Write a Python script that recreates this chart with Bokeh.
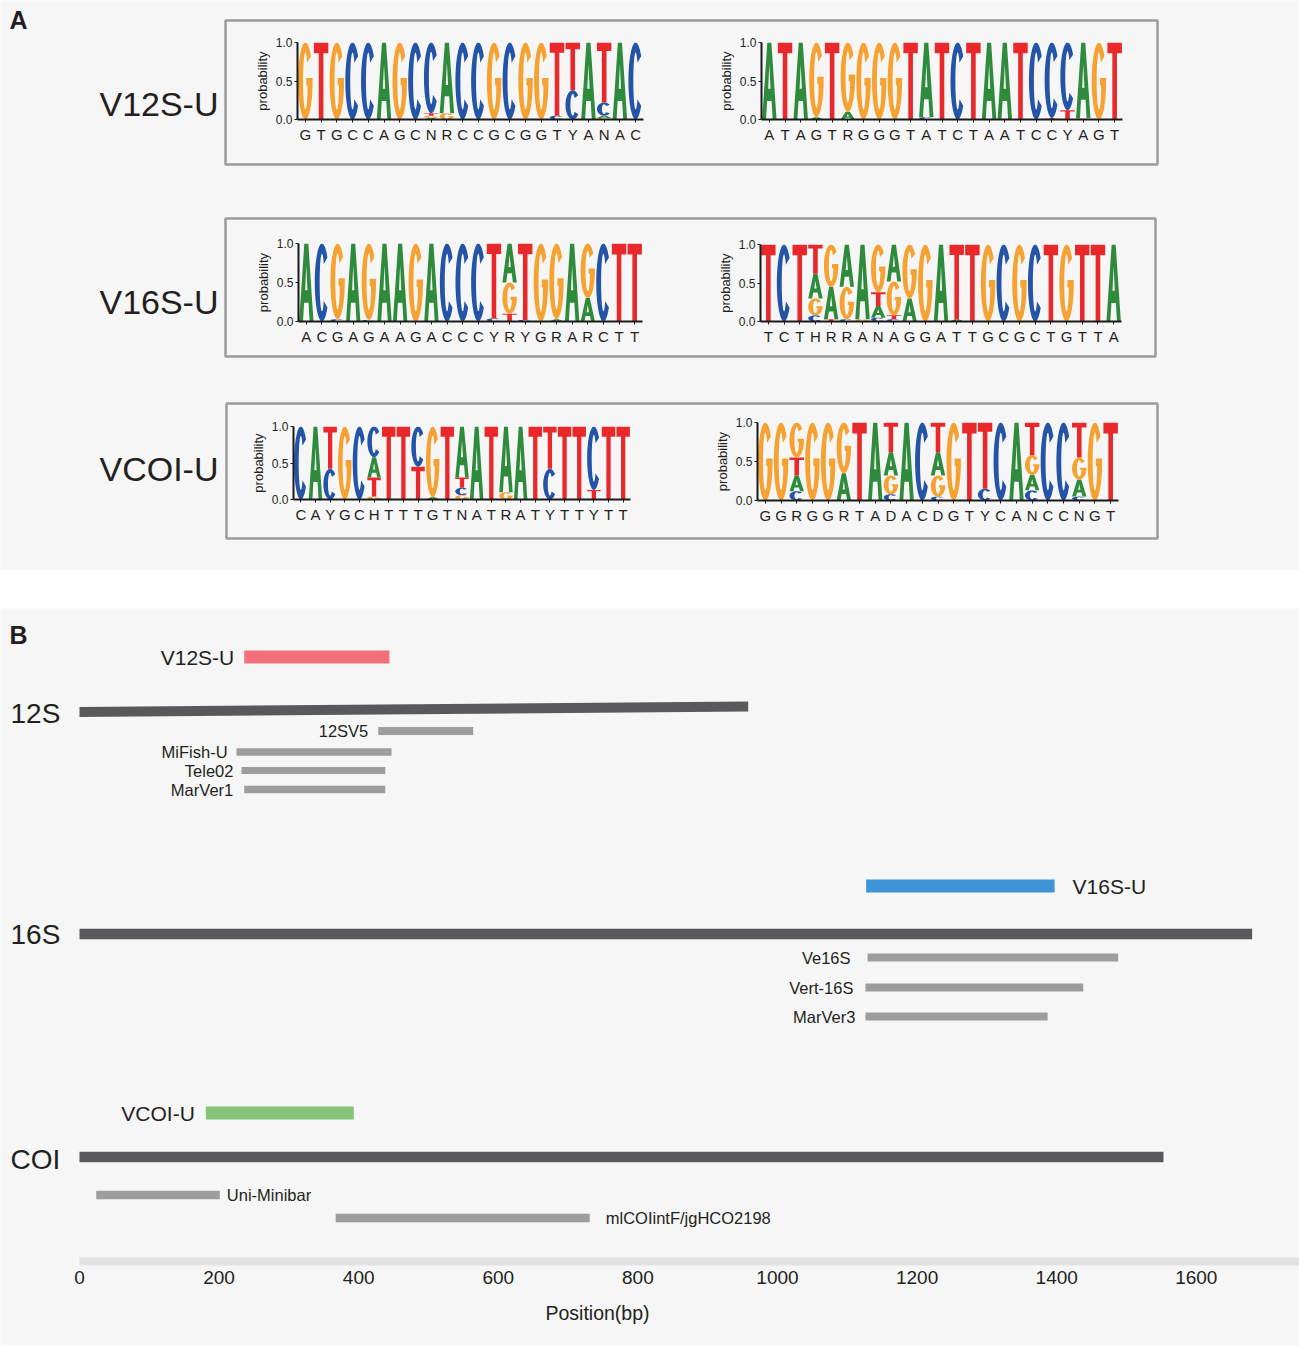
import numpy as np
from bokeh.plotting import figure
from bokeh.models import Range1d, FixedTicker, ColumnDataSource, GridBox, Title, NumeralTickFormatter
from bokeh.embed import file_html
from bokeh.resources import INLINE
from bokeh.core.properties import value

# ------------------------------------------------------------------ data: panel A
BASES = ["A", "C", "G", "T"]          # order of the probability tuples below

V12S_LEFT_LABELS = list("GTGCCAGCNRCCGCGGTYANAC")
V12S_LEFT = [
    (0, 0, 1, 0), (0, 0, 0, 1), (0, 0, 1, 0), (0, 1, 0, 0), (0, 1, 0, 0), (1, 0, 0, 0),
    (0, 0, 1, 0), (0, 1, 0, 0), (0.02, 0.92, 0.03, 0.03), (0.92, 0, 0.08, 0), (0, 1, 0, 0),
    (0, 1, 0, 0), (0, 0, 1, 0), (0, 1, 0, 0), (0, 0, 1, 0), (0, 0, 1, 0), (0, 0.05, 0, 0.95),
    (0, 0.38, 0, 0.62), (1, 0, 0, 0), (0.03, 0.17, 0.02, 0.78), (1, 0, 0, 0), (0, 1, 0, 0)]

V12S_RIGHT_LABELS = list("ATAGTRGGGTATCTAATCCYAGT")
V12S_RIGHT = [
    (1, 0, 0, 0), (0, 0, 0, 1), (1, 0, 0, 0), (0.03, 0, 0.97, 0), (0, 0, 0, 1), (0.1, 0, 0.9, 0),
    (0, 0, 1, 0), (0, 0, 1, 0), (0, 0, 1, 0), (0, 0, 0, 1), (0.97, 0.03, 0, 0), (0, 0, 0, 1),
    (0, 1, 0, 0), (0, 0, 0, 1), (1, 0, 0, 0), (1, 0, 0, 0), (0, 0, 0, 1), (0, 1, 0, 0),
    (0, 0.98, 0, 0.02), (0, 0.88, 0, 0.12), (0.98, 0, 0.02, 0), (0, 0, 1, 0), (0, 0, 0, 1)]

V16S_LEFT_LABELS = list("ACGAGAAGACCCYRYGRARCTT")
V16S_LEFT = [
    (1, 0, 0, 0), (0, 1, 0, 0), (0, 0.03, 0.97, 0), (1, 0, 0, 0), (0, 0.02, 0.98, 0), (1, 0, 0, 0),
    (1, 0, 0, 0), (0, 0, 1, 0), (1, 0, 0, 0), (0, 1, 0, 0), (0, 1, 0, 0), (0, 1, 0, 0),
    (0, 0.04, 0, 0.96), (0.5, 0, 0.4, 0.1), (0, 0.02, 0, 0.98), (0, 0, 1, 0), (0.03, 0, 0.97, 0),
    (1, 0, 0, 0), (0.3, 0, 0.7, 0), (0, 1, 0, 0), (0, 0, 0, 1), (0, 0, 0, 1)]

V16S_RIGHT_LABELS = list("TCTHRRANAGGATTGCGCTGTTA")
V16S_RIGHT = [
    (0, 0, 0, 1), (0, 1, 0, 0), (0, 0, 0, 1), (0.32, 0.08, 0.22, 0.38), (0.42, 0, 0.55, 0.03),
    (0.55, 0.03, 0.42, 0), (0.97, 0, 0.03, 0), (0.15, 0.05, 0.62, 0.18), (0.48, 0.03, 0.44, 0.05),
    (0.3, 0, 0.7, 0), (0, 0, 1, 0), (1, 0, 0, 0), (0.03, 0, 0, 0.97), (0, 0, 0, 1), (0, 0, 1, 0),
    (0, 1, 0, 0), (0, 0, 1, 0), (0, 1, 0, 0), (0, 0, 0, 1), (0, 0, 1, 0), (0, 0, 0, 1),
    (0, 0, 0, 1), (1, 0, 0, 0)]

VCOI_LEFT_LABELS = list("CAYGCHTTTGTNATRATYTTYTT")
VCOI_LEFT = [
    (0, 1, 0, 0), (1, 0, 0, 0), (0, 0.42, 0, 0.58), (0, 0, 1, 0), (0, 1, 0, 0),
    (0.28, 0.42, 0.04, 0.26), (0, 0, 0, 1), (0, 0, 0, 1), (0, 0.55, 0, 0.45), (0.03, 0, 0.97, 0),
    (0, 0, 0, 1), (0.7, 0.1, 0.06, 0.14), (1, 0, 0, 0), (0, 0, 0, 1), (0.9, 0, 0.1, 0),
    (1, 0, 0, 0), (0, 0, 0, 1), (0, 0.42, 0, 0.58), (0, 0, 0, 1), (0, 0, 0, 1),
    (0, 0.87, 0, 0.13), (0, 0, 0, 1), (0, 0, 0, 1)]

VCOI_RIGHT_LABELS = list("GGRGGRTADACDGTYCANCCNGT")
VCOI_RIGHT = [
    (0, 0, 1, 0), (0, 0, 1, 0), (0.2, 0.12, 0.45, 0.23), (0, 0, 1, 0), (0, 0, 1, 0),
    (0.35, 0, 0.65, 0), (0, 0, 0, 1), (1, 0, 0, 0), (0.3, 0.08, 0.24, 0.38), (1, 0, 0, 0),
    (0, 1, 0, 0), (0.3, 0.05, 0.27, 0.38), (0, 0, 1, 0), (0, 0, 0, 1), (0, 0.15, 0, 0.85),
    (0, 1, 0, 0), (1, 0, 0, 0), (0.2, 0.13, 0.25, 0.42), (0, 1, 0, 0), (0, 1, 0, 0),
    (0.22, 0.05, 0.28, 0.45), (0, 0, 1, 0), (0, 0, 0, 1)]

# ------------------------------------------------------------------ data: panel B
GENES = ["12S", "16S", "COI"]
GENE_LENGTH = [958, 1680, 1553]
NEW_PRIMERS = ["V12S-U", "V16S-U", "VCOI-U"]
NEW_START = [236, 1127, 181]
NEW_END = [444, 1397, 393]
OLD_PRIMERS = ["12SV5", "MiFish-U", "Tele02", "MarVer1", "Ve16S", "Vert-16S", "MarVer3",
               "Uni-Minibar", "mlCOIintF/jgHCO2198"]
OLD_START = [428, 225, 232, 236, 1129, 1126, 1126, 24, 367]
OLD_END = [564, 447, 438, 438, 1488, 1438, 1387, 201, 731]
X_TICKS = [0, 200, 400, 600, 800, 1000, 1200, 1400, 1600]

# ------------------------------------------------------------------ style / layout
FONT = "Liberation Sans"
TXT = "#231f20"
BG = "#f6f6f6"
BASE_COLORS = {"A": "#2f8b3c", "C": "#2454a8", "G": "#f6a233", "T": "#e9282b"}
NEW_COLORS = ["#f27079", "#3d93d5", "#86c578"]
GENE_COLOR = "#58595b"
OLD_COLOR = "#9d9d9e"
W = 1299
H = 1345
HA = 570
B_TOP = 608

BOXES = [(225, 1157, 20, 164), (225, 1155, 218, 356), (226, 1157, 403, 538)]
ROW_LABEL_Y = [103, 301, 468]
# logo frames: axis x, right x, top y, bottom y (page pixels)
LOGO_GEOM = [(297, 643, 42, 119), (761, 1122, 42, 119),
             (298, 642, 243, 321), (760, 1121, 244, 321),
             (293, 630, 426, 499), (757, 1118, 422, 500)]
ML, MR, MT, MB = 64, 3, 6, 30
PAD = 0.04

PX_PER_BP = 0.698
X0_PX = 79
AXIS_Y = 1261
GENE_Y = [(711.5, 706.0), (933.5, 933.5), (1156.5, 1156.5)]
GENE_T = [10, 10.5, 10.5]
GENE_LABEL_Y = [713, 934, 1159]
NEW_Y = [656.5, 885.5, 1112.5]
NEW_T = 13
NEW_SIDE = ["left", "right", "left"]
NEW_GAP = [10, 18, 11]
OLD_Y = [730.5, 751.5, 770, 789, 957, 987, 1016, 1194.5, 1217.5]
OLD_T = [8, 7.5, 7, 7.5, 8, 8, 8, 8.5, 8.5]
OLD_SIDE = ["left"] * 7 + ["right", "right"]
OLD_GAP = [10, 9, 8, 11, 17, 12, 10, 7, 16]
XLABEL_LEFT_PX = 545


# ------------------------------------------------------------------ letter shapes
def _arc(rx, ry, a0, a1, n=40):
    t = np.radians(np.linspace(a0, a1, n))
    return list(0.5 + rx * np.cos(t)), list(0.5 + ry * np.sin(t))


def letter_rings(b):
    if b == "A":
        outer = [(0, 0), (0.36, 1), (0.64, 1), (1, 0), (0.73, 0), (0.655, 0.24), (0.345, 0.24), (0.27, 0)]
        hole = [(0.42, 0.40), (0.58, 0.40), (0.5, 0.72)]
        return [outer, hole]
    if b == "T":
        return [[(0, 1), (1, 1), (1, 0.86), (0.66, 0.86), (0.66, 0), (0.34, 0), (0.34, 0.86), (0, 0.86)]]
    if b == "C":
        ox, oy = _arc(0.5, 0.5, 40, 320)
        ix, iy = _arc(0.16, 0.37, 320, 40)
        return [list(zip(ox + ix, oy + iy))]
    ox, oy = _arc(0.5, 0.5, 40, 360)
    ix, iy = _arc(0.16, 0.37, 335, 40)
    pts = list(zip(ox, oy)) + [(1.0, 0.54), (0.56, 0.54), (0.56, 0.44), (0.65, 0.44)] + list(zip(ix, iy))
    return [pts]


def logo_source(probs):
    xs, ys, colors = [], [], []
    for i, col in enumerate(probs, start=1):
        order = sorted(range(4), key=lambda k: col[k])
        y0 = 0.0
        for k in order:
            h = col[k]
            if h <= 0:
                continue
            rings = letter_rings(BASES[k])
            xs.append([[[i - 0.5 + PAD + u * (1 - 2 * PAD) for u, v in r] for r in rings]])
            ys.append([[[y0 + v * h for u, v in r] for r in rings]])
            colors.append(BASE_COLORS[BASES[k]])
            y0 += h
    return ColumnDataSource(dict(xs=xs, ys=ys, color=colors))


def logo_fig(probs, labels, geom):
    ax, rx, ty, by = geom
    n = len(probs)
    p = figure(frame_width=rx - ax, frame_height=by - ty,
               x_range=Range1d(0.5, n + 0.5), y_range=Range1d(0, 1),
               min_border_left=ML, min_border_right=MR, min_border_top=MT, min_border_bottom=MB,
               toolbar_location=None, output_backend="svg", frame_align=False,
               background_fill_color=BG, border_fill_color=BG, outline_line_color=None,
               margin=(ty - MT, 0, 0, ax - ML))
    p.grid.visible = False
    p.multi_polygons(xs="xs", ys="ys", fill_color="color", line_color=None, source=logo_source(probs))
    xa = p.xaxis[0]
    xa.ticker = FixedTicker(ticks=list(range(1, n + 1)))
    xa.major_label_overrides = {i + 1: lab for i, lab in enumerate(labels)}
    xa.major_label_text_font = FONT
    xa.major_label_text_font_size = "15px"
    xa.major_label_text_color = TXT
    xa.major_label_standoff = 3
    ya = p.yaxis[0]
    ya.ticker = FixedTicker(ticks=[0, 0.5, 1.0])
    ya.formatter = NumeralTickFormatter(format="0.0")
    ya.major_label_text_font = FONT
    ya.major_label_text_font_size = "12px"
    ya.major_label_text_color = TXT
    ya.major_label_standoff = 2
    ya.axis_label = "probability"
    ya.axis_label_text_font = FONT
    ya.axis_label_text_font_size = "13px"
    ya.axis_label_text_font_style = "normal"
    ya.axis_label_text_color = TXT
    ya.axis_label_standoff = 3
    for a in (xa, ya):
        a.axis_line_width = 2
        a.axis_line_color = "#1a1a1a"
        a.major_tick_line_color = "#1a1a1a"
        a.major_tick_line_width = 1
        a.major_tick_out = 3
        a.major_tick_in = 0
        a.minor_tick_line_color = None
    return p


# ------------------------------------------------------------------ panel A background
pa = figure(width=W, height=HA, x_range=Range1d(0, W), y_range=Range1d(HA, 0),
            min_border_left=0, min_border_right=0, min_border_top=0, min_border_bottom=0,
            toolbar_location=None, output_backend="svg", frame_align=False,
            background_fill_color=BG, border_fill_color=BG, outline_line_color=None,
            x_axis_location=None, y_axis_location=None)
pa.grid.visible = False
pa.quad(left=[b[0] for b in BOXES], right=[b[1] for b in BOXES],
        top=[b[2] for b in BOXES], bottom=[b[3] for b in BOXES],
        fill_color=None, line_color="#9b9b9b", line_width=2.5)
pa.text(x=[218] * 3, y=ROW_LABEL_Y, text=NEW_PRIMERS, text_align="right", text_baseline="middle",
        text_font=value(FONT), text_font_size="34px", text_color=TXT)
pa.text(x=[9], y=[19], text=["A"], text_align="left", text_baseline="middle",
        text_font=value(FONT), text_font_size="25px", text_font_style="bold", text_color=TXT)

logos = [
    logo_fig(V12S_LEFT, V12S_LEFT_LABELS, LOGO_GEOM[0]),
    logo_fig(V12S_RIGHT, V12S_RIGHT_LABELS, LOGO_GEOM[1]),
    logo_fig(V16S_LEFT, V16S_LEFT_LABELS, LOGO_GEOM[2]),
    logo_fig(V16S_RIGHT, V16S_RIGHT_LABELS, LOGO_GEOM[3]),
    logo_fig(VCOI_LEFT, VCOI_LEFT_LABELS, LOGO_GEOM[4]),
    logo_fig(VCOI_RIGHT, VCOI_RIGHT_LABELS, LOGO_GEOM[5]),
]

# ------------------------------------------------------------------ panel B
HB = H - B_TOP
x_start = -X0_PX / PX_PER_BP
x_end = (W - X0_PX) / PX_PER_BP
pb = figure(width=W, height=HB, x_range=Range1d(x_start, x_end), y_range=Range1d(AXIS_Y, B_TOP),
            min_border_left=0, min_border_right=0, min_border_top=0, min_border_bottom=HB - (AXIS_Y - B_TOP),
            toolbar_location=None, output_backend="svg", y_axis_location=None, frame_align=False,
            background_fill_color=BG, border_fill_color=BG, outline_line_color=None,
            margin=(B_TOP, 0, 0, 0))
pb.grid.visible = False

# genes
gxs, gys = [], []
for L, (yl, yr), t in zip(GENE_LENGTH, GENE_Y, GENE_T):
    gxs.append([0, L, L, 0])
    gys.append([yl - t / 2, yr - t / 2, yr + t / 2, yl + t / 2])
pb.patches(xs=gxs, ys=gys, fill_color=GENE_COLOR, line_color=None)
pb.text(x=[0] * 3, y=GENE_LABEL_Y, text=GENES, x_offset=-(X0_PX - 10), text_align="left",
        text_baseline="middle", text_font=value(FONT), text_font_size="28px", text_color=TXT)

# new primers
pb.hbar(y=NEW_Y, left=NEW_START, right=NEW_END, height=NEW_T, fill_color=NEW_COLORS, line_color=None)
for name, s, e, y, side, gap in zip(NEW_PRIMERS, NEW_START, NEW_END, NEW_Y, NEW_SIDE, NEW_GAP):
    if side == "left":
        pb.text(x=[s], y=[y], text=[name], x_offset=-gap, text_align="right", text_baseline="middle",
                text_font=value(FONT), text_font_size="21px", text_color=TXT)
    else:
        pb.text(x=[e], y=[y], text=[name], x_offset=gap, text_align="left", text_baseline="middle",
                text_font=value(FONT), text_font_size="21px", text_color=TXT)

# existing primers
pb.hbar(y=OLD_Y, left=OLD_START, right=OLD_END, height=OLD_T, fill_color=OLD_COLOR, line_color=None)
for name, s, e, y, side, gap in zip(OLD_PRIMERS, OLD_START, OLD_END, OLD_Y, OLD_SIDE, OLD_GAP):
    if side == "left":
        pb.text(x=[s], y=[y], text=[name], x_offset=-gap, text_align="right", text_baseline="middle",
                text_font=value(FONT), text_font_size="16.5px", text_color=TXT)
    else:
        pb.text(x=[e], y=[y], text=[name], x_offset=gap, text_align="left", text_baseline="middle",
                text_font=value(FONT), text_font_size="16.5px", text_color=TXT)

pb.text(x=[0], y=[634], text=["B"], x_offset=-(X0_PX - 9), text_align="left", text_baseline="middle",
        text_font=value(FONT), text_font_size="25px", text_font_style="bold", text_color=TXT)

xa = pb.xaxis[0]
xa.ticker = FixedTicker(ticks=X_TICKS)
xa.bounds = (0, x_end)
xa.axis_line_color = "#e2e2e3"
xa.axis_line_width = 8
xa.major_tick_line_color = None
xa.minor_tick_line_color = None
xa.major_tick_out = 0
xa.major_tick_in = 0
xa.major_label_text_font = FONT
xa.major_label_text_font_size = "19px"
xa.major_label_text_color = TXT
xa.major_label_standoff = 9

pb.add_layout(Title(text="Position(bp)", align="left", offset=XLABEL_LEFT_PX, standoff=26,
                    text_font=FONT, text_font_size="19.5px", text_font_style="normal",
                    text_color=TXT), "below")

grid = GridBox(children=[(pa, 0, 0)] + [(lg, 0, 0) for lg in logos] + [(pb, 0, 0)], spacing=0)

open("out.html", "w").write(file_html(grid, INLINE, title="primer logos"))
